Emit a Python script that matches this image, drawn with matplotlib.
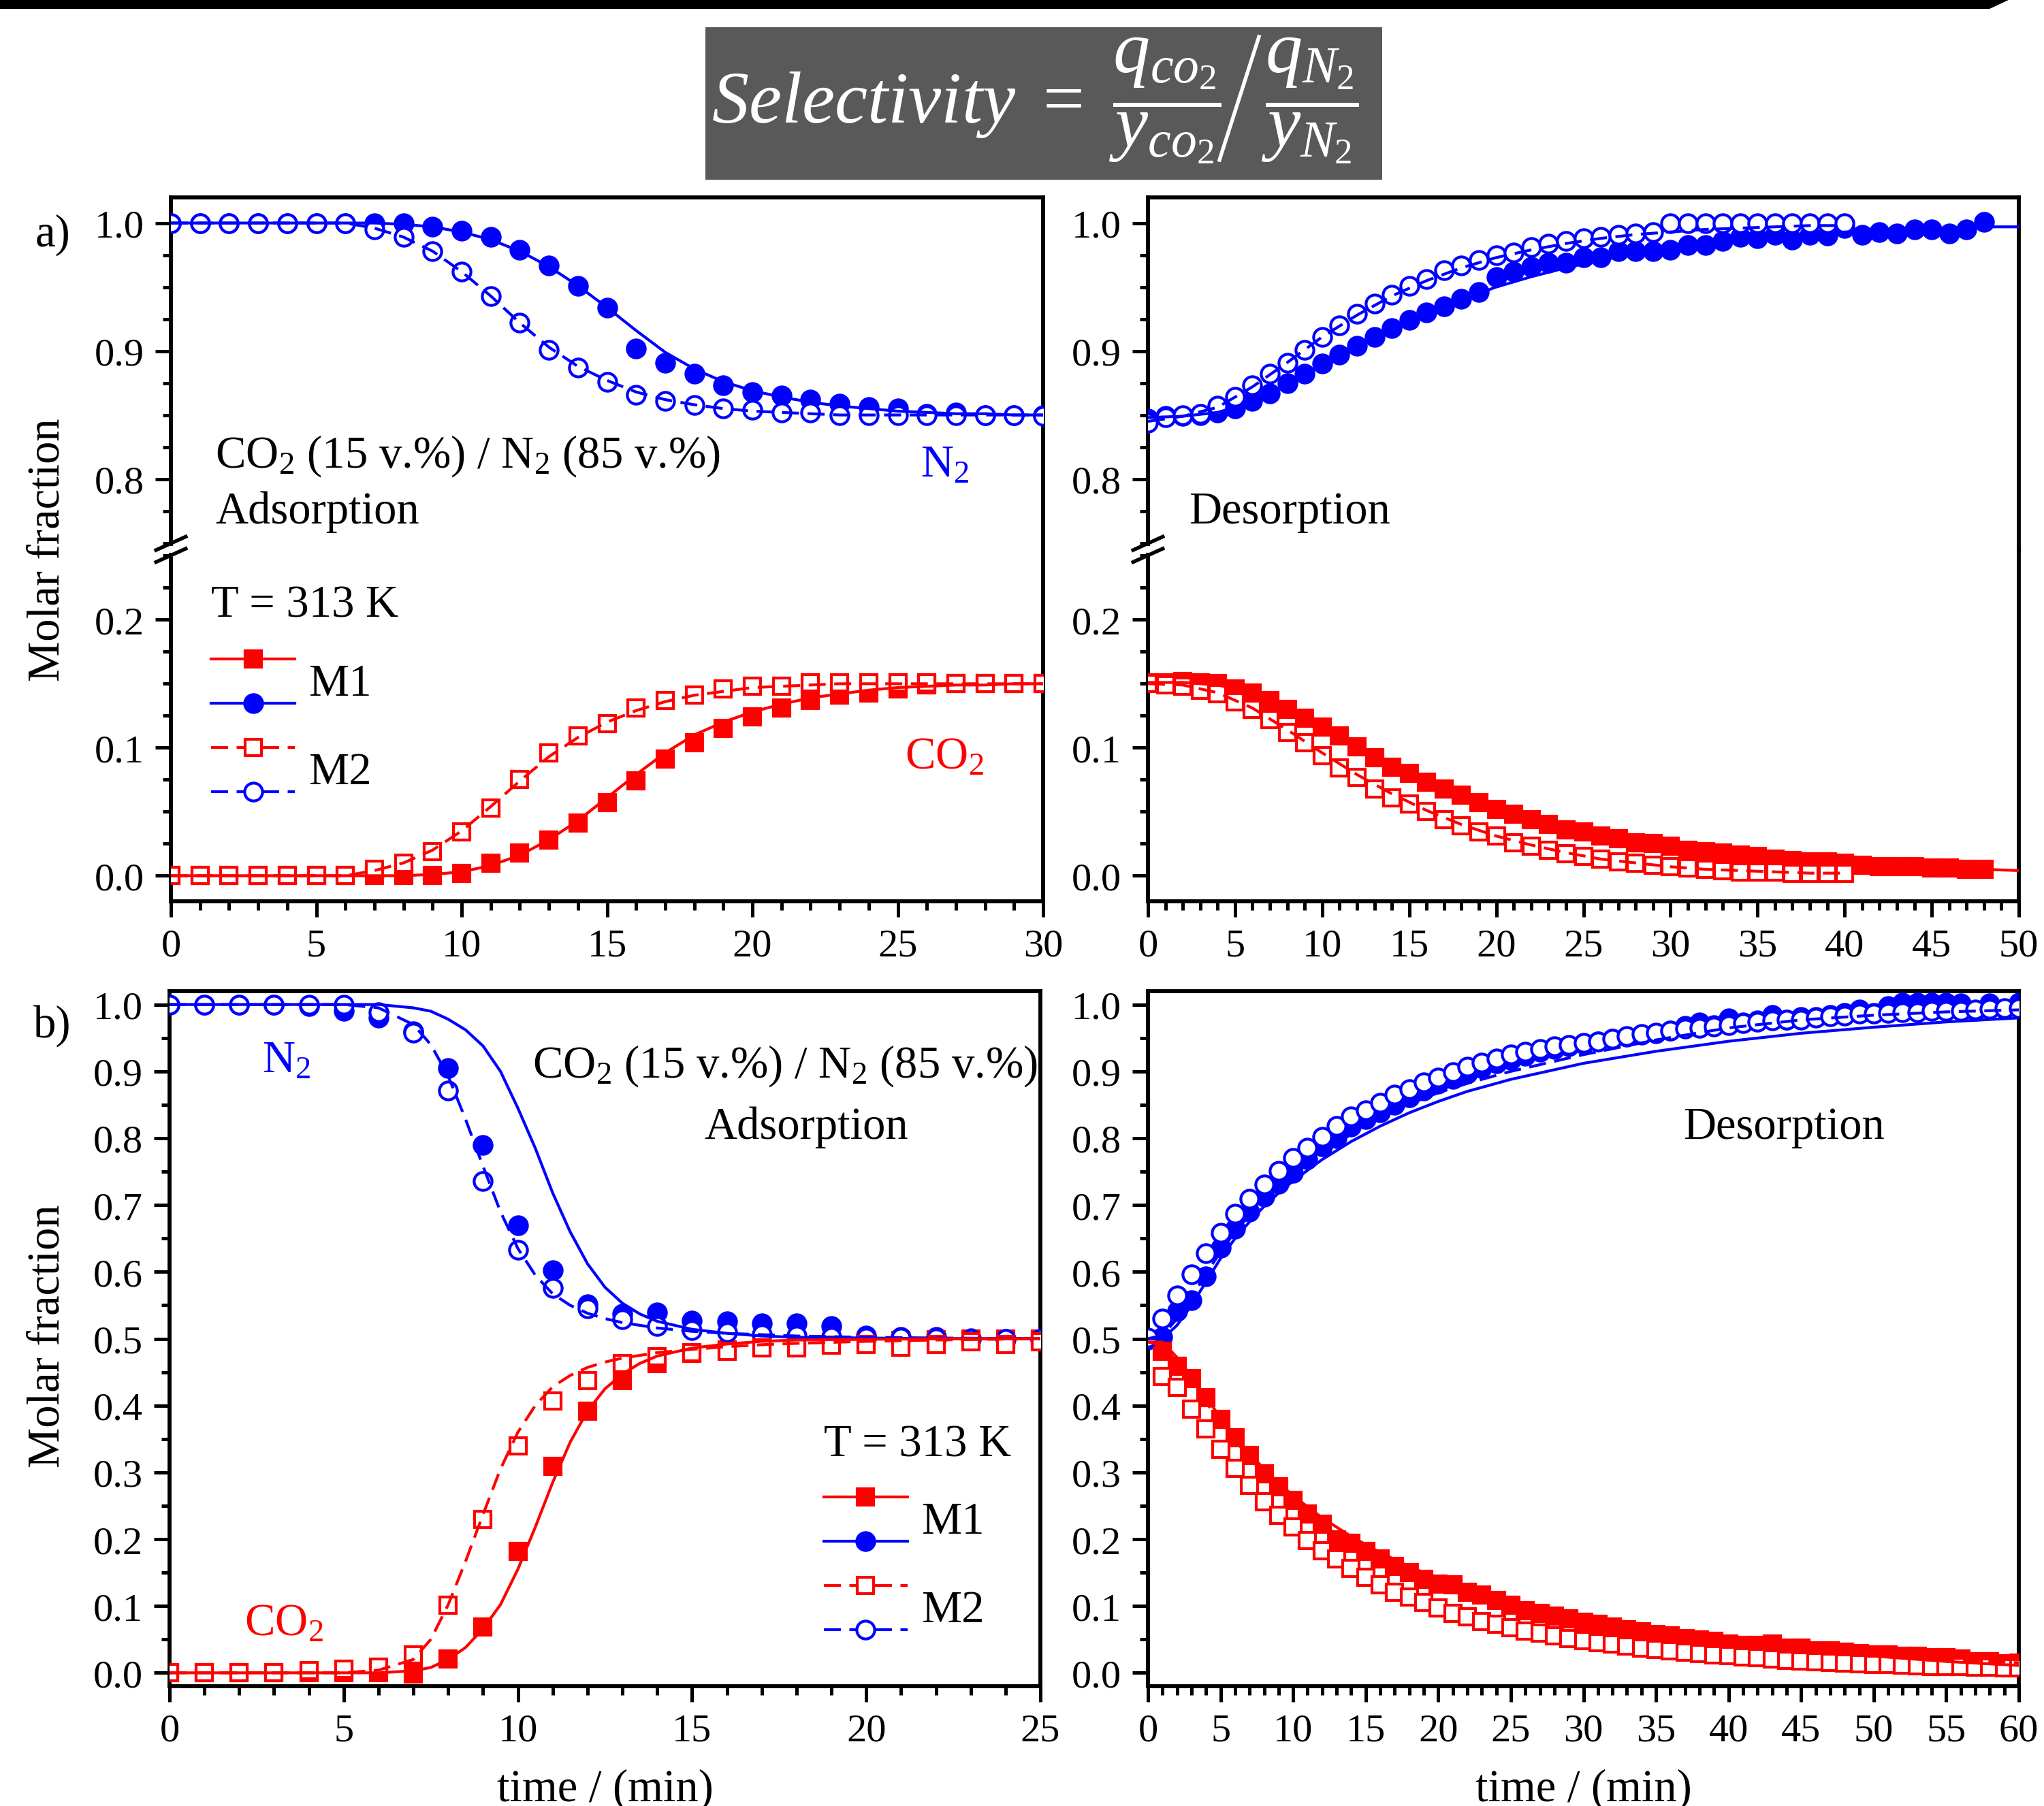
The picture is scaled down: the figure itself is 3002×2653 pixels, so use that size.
import matplotlib
matplotlib.use('Agg')
import matplotlib.pyplot as plt
from matplotlib.lines import Line2D
from matplotlib.patches import Rectangle, Polygon
from matplotlib.legend_handler import HandlerBase
from matplotlib.ticker import MultipleLocator, FormatStrFormatter

plt.rcParams['font.family'] = ['Liberation Serif', 'DejaVu Serif']
plt.rcParams['mathtext.fontset'] = 'custom'
plt.rcParams['mathtext.rm'] = 'Liberation Serif'
plt.rcParams['mathtext.it'] = 'Liberation Serif:italic'
plt.rcParams['mathtext.bf'] = 'Liberation Serif:bold'

RED = '#ff0000'
BLUE = '#0000ff'

# ---------------- a) CO2 15 % / N2 85 %, adsorption ----------------
t_ads_a = list(range(0, 31))
n2_m1_ads_a = [1.0, 1.0, 1.0, 1.0, 1.0, 1.0, 1.0, 1.0, 1.0, 0.997, 0.994, 0.989, 0.979, 0.967, 0.951,
               0.934, 0.902, 0.891, 0.882, 0.873, 0.868, 0.865, 0.862, 0.859, 0.856, 0.855, 0.851,
               0.852, 0.850, 0.850, 0.850]
n2_m2_ads_a = [1.0, 1.0, 1.0, 1.0, 1.0, 1.0, 1.0, 0.995, 0.989, 0.978, 0.962, 0.943, 0.922, 0.901, 0.887,
               0.876, 0.866, 0.861, 0.858, 0.855, 0.854, 0.852, 0.852, 0.850, 0.850, 0.850, 0.850,
               0.850, 0.850, 0.850, 0.849]
co2_m1_ads_a = [0.0, 0.0, 0.0, 0.0, 0.0, 0.0, 0.0, 0.0, 0.0, 0.0, 0.002, 0.010, 0.018, 0.028, 0.041,
                0.057, 0.074, 0.091, 0.104, 0.115, 0.124, 0.131, 0.137, 0.141, 0.143, 0.146, 0.149,
                0.150, 0.150, 0.150, 0.150]
co2_m2_ads_a = [0.0, 0.0, 0.0, 0.0, 0.0, 0.0, 0.0, 0.005, 0.010, 0.019, 0.034, 0.053, 0.075, 0.096, 0.109,
                0.119, 0.131, 0.137, 0.141, 0.146, 0.148, 0.148, 0.151, 0.151, 0.151, 0.151, 0.151,
                0.150, 0.150, 0.150, 0.150]
# model curves
fit_n2_m1_ads_a = [1.0, 1.0, 1.0, 1.0, 1.0, 1.0, 1.0, 1.0, 0.999, 0.997, 0.993, 0.987, 0.978, 0.966, 0.951,
                   0.934, 0.916, 0.899, 0.886, 0.876, 0.869, 0.864, 0.860, 0.857, 0.855, 0.853, 0.852,
                   0.851, 0.851, 0.850, 0.850]
fit_n2_m2_ads_a = [1.0, 1.0, 1.0, 1.0, 1.0, 1.0, 1.0, 0.996, 0.989, 0.978, 0.962, 0.943, 0.922, 0.903, 0.888,
                   0.877, 0.868, 0.862, 0.858, 0.855, 0.853, 0.852, 0.851, 0.850, 0.850, 0.850, 0.850,
                   0.850, 0.850, 0.850, 0.850]
fit_co2_m1_ads_a = [0.0, 0.0, 0.0, 0.0, 0.0, 0.0, 0.0, 0.0, 0.0, 0.001, 0.003, 0.008, 0.016, 0.028, 0.043,
                    0.061, 0.079, 0.096, 0.110, 0.120, 0.128, 0.134, 0.139, 0.142, 0.145, 0.147, 0.148,
                    0.149, 0.149, 0.150, 0.150]
fit_co2_m2_ads_a = [0.0, 0.0, 0.0, 0.0, 0.0, 0.0, 0.0, 0.004, 0.010, 0.020, 0.035, 0.054, 0.074, 0.093, 0.108,
                    0.120, 0.129, 0.136, 0.141, 0.144, 0.147, 0.148, 0.149, 0.150, 0.150, 0.150, 0.150,
                    0.150, 0.150, 0.150, 0.150]

# ---------------- a) desorption ----------------
t_des_a_m1 = list(range(0, 49))
t_des_a_m2 = list(range(0, 41))
n2_m1_des_a = [0.847, 0.849, 0.849, 0.850, 0.852, 0.855, 0.861, 0.867, 0.875, 0.882,
               0.890, 0.897, 0.904, 0.911, 0.918, 0.924, 0.930, 0.935, 0.941, 0.946,
               0.958, 0.962, 0.966, 0.969, 0.969, 0.973, 0.973, 0.978, 0.978, 0.978,
               0.979, 0.983, 0.983, 0.986, 0.989, 0.988, 0.991, 0.987, 0.991, 0.990,
               0.996, 0.991, 0.993, 0.992, 0.995, 0.995, 0.992, 0.995, 1.001]
n2_m2_des_a = [0.844, 0.848, 0.850, 0.851, 0.857, 0.864, 0.873, 0.882, 0.891, 0.901,
               0.911, 0.920, 0.929, 0.937, 0.944, 0.951, 0.956, 0.963, 0.967, 0.971,
               0.975, 0.977, 0.981, 0.984, 0.986, 0.988, 0.989, 0.991, 0.992, 0.993,
               1.0, 1.0, 1.0, 1.0, 1.0, 1.0, 1.0, 1.0, 1.0, 1.0, 1.0]
co2_m1_des_a = [0.151, 0.151, 0.152, 0.151, 0.150, 0.146, 0.143, 0.137, 0.130, 0.123,
                0.116, 0.109, 0.101, 0.092, 0.085, 0.080, 0.073, 0.068, 0.063, 0.057,
                0.052, 0.048, 0.044, 0.040, 0.036, 0.034, 0.031, 0.029, 0.026, 0.025,
                0.023, 0.020, 0.019, 0.018, 0.016, 0.015, 0.013, 0.012, 0.011, 0.011,
                0.010, 0.008, 0.007, 0.007, 0.007, 0.006, 0.006, 0.005, 0.005]
co2_m2_des_a = [0.150, 0.149, 0.148, 0.145, 0.142, 0.136, 0.130, 0.122, 0.112, 0.104,
                0.094, 0.084, 0.077, 0.068, 0.061, 0.056, 0.050, 0.044, 0.039, 0.034,
                0.031, 0.026, 0.023, 0.020, 0.017, 0.015, 0.013, 0.011, 0.010, 0.008,
                0.007, 0.006, 0.005, 0.004, 0.003, 0.003, 0.003, 0.002, 0.002, 0.002, 0.002]
t_fit_des_a_m1 = [0, 2, 4, 6, 8, 10, 12, 14, 16, 18, 20, 22, 24, 26, 28, 30, 32, 34, 36, 38, 40,
                  42, 44, 46, 48, 50]
t_fit_des_a_m2 = [0, 2, 4, 6, 8, 10, 12, 14, 16, 18, 20, 22, 24, 26, 28, 30, 32, 34, 36, 38, 40]
fit_n2_m1_des_a = [0.848, 0.849, 0.852, 0.860, 0.874, 0.889, 0.903, 0.917, 0.929, 0.940, 0.950,
                   0.958, 0.965, 0.971, 0.976, 0.980, 0.984, 0.987, 0.989, 0.991, 0.993, 0.994,
                   0.995, 0.996, 0.997, 0.997]
fit_n2_m2_des_a = [0.845, 0.849, 0.856, 0.872, 0.891, 0.911, 0.928, 0.943, 0.955, 0.965, 0.973,
                   0.979, 0.984, 0.988, 0.991, 0.993, 0.995, 0.996, 0.997, 0.998, 0.998]
fit_co2_m1_des_a = [0.151, 0.151, 0.149, 0.143, 0.131, 0.117, 0.102, 0.088, 0.075, 0.064, 0.054,
                    0.045, 0.038, 0.032, 0.027, 0.022, 0.018, 0.015, 0.013, 0.011, 0.009, 0.008,
                    0.007, 0.006, 0.005, 0.004]
fit_co2_m2_des_a = [0.150, 0.149, 0.143, 0.131, 0.114, 0.096, 0.079, 0.064, 0.051, 0.040, 0.031,
                    0.024, 0.018, 0.013, 0.010, 0.007, 0.005, 0.004, 0.003, 0.002, 0.002]

# ---------------- b) adsorption ----------------
t_ads_b = list(range(0, 26))
n2_m1_ads_b = [1.0, 1.0, 1.0, 1.0, 0.998, 0.990, 0.980, 0.960, 0.905, 0.790, 0.670, 0.602, 0.551,
               0.537, 0.539, 0.527, 0.526, 0.523, 0.523, 0.519, 0.505, 0.503, 0.503, 0.501, 0.500, 0.500]
n2_m2_ads_b = [1.0, 1.0, 1.0, 1.0, 1.0, 1.0, 0.988, 0.958, 0.871, 0.736, 0.633, 0.576, 0.545,
               0.529, 0.519, 0.513, 0.510, 0.507, 0.505, 0.503, 0.502, 0.502, 0.501, 0.500, 0.500, 0.500]
co2_m1_ads_b = [0.0, 0.0, 0.0, 0.0, 0.0, 0.0, 0.0, -0.002, 0.021, 0.069, 0.182, 0.309, 0.392,
                0.437, 0.463, 0.478, 0.483, 0.487, 0.490, 0.494, 0.495, 0.497, 0.498, 0.500, 0.500, 0.500]
co2_m2_ads_b = [0.0, 0.0, 0.0, 0.0, 0.003, 0.005, 0.009, 0.027, 0.101, 0.230, 0.340, 0.407, 0.437,
                0.463, 0.473, 0.479, 0.481, 0.486, 0.486, 0.490, 0.491, 0.487, 0.491, 0.495, 0.491, 0.495]
t_fit_ads_b = [0, 5, 6, 7, 7.5, 8, 8.5, 9, 9.5, 10, 10.5, 11, 11.5, 12, 12.5, 13, 13.5, 14, 15, 16,
               17, 18, 20, 22, 25]
fit_n2_m1_ads_b = [1.0, 1.0, 1.0, 0.995, 0.990, 0.978, 0.962, 0.938, 0.900, 0.845, 0.785, 0.718,
                   0.660, 0.612, 0.577, 0.553, 0.537, 0.526, 0.514, 0.508, 0.504, 0.502, 0.501,
                   0.500, 0.500]
fit_n2_m2_ads_b = [1.0, 1.0, 0.995, 0.970, 0.940, 0.893, 0.828, 0.758, 0.690, 0.635, 0.595, 0.567,
                   0.550, 0.538, 0.530, 0.524, 0.520, 0.516, 0.511, 0.508, 0.506, 0.504, 0.502,
                   0.501, 0.500]
fit_co2_m1_ads_b = [0.0, 0.0, 0.0, 0.003, 0.008, 0.020, 0.038, 0.066, 0.102, 0.155, 0.218, 0.285,
                    0.345, 0.392, 0.425, 0.447, 0.463, 0.474, 0.486, 0.492, 0.496, 0.498, 0.499,
                    0.500, 0.500]
fit_co2_m2_ads_b = [0.0, 0.0, 0.004, 0.020, 0.050, 0.102, 0.167, 0.237, 0.305, 0.360, 0.400, 0.428,
                    0.445, 0.457, 0.465, 0.471, 0.475, 0.479, 0.484, 0.488, 0.491, 0.493, 0.496,
                    0.498, 0.500]

# ---------------- b) desorption ----------------
t_des_b_n2 = list(range(0, 61))
t_des_b_co2 = list(range(1, 61))
n2_m1_des_b = [0.498, 0.503, 0.541, 0.558, 0.593, 0.636, 0.664, 0.690, 0.712, 0.732,
               0.748, 0.768, 0.788, 0.800, 0.817, 0.829, 0.839, 0.850, 0.861, 0.871,
               0.881, 0.889, 0.897, 0.905, 0.912, 0.917, 0.923, 0.929, 0.933, 0.937,
               0.941, 0.945, 0.949, 0.952, 0.955, 0.957, 0.961, 0.968, 0.973, 0.969,
               0.979, 0.973, 0.976, 0.984, 0.977, 0.981, 0.981, 0.984, 0.987, 0.992,
               0.987, 0.998, 1.003, 1.003, 1.003, 1.003, 1.002, 0.990, 1.002, 0.994, 1.003]
n2_m2_des_b = [0.502, 0.530, 0.565, 0.596, 0.628, 0.658, 0.687, 0.709, 0.731, 0.751,
               0.770, 0.786, 0.802, 0.818, 0.833, 0.842, 0.853, 0.865, 0.873, 0.883,
               0.891, 0.899, 0.907, 0.913, 0.919, 0.925, 0.929, 0.933, 0.937, 0.940,
               0.943, 0.945, 0.949, 0.953, 0.956, 0.958, 0.961, 0.964, 0.965, 0.967,
               0.969, 0.972, 0.974, 0.976, 0.977, 0.977, 0.980, 0.982, 0.983, 0.986,
               0.986, 0.987, 0.988, 0.988, 0.990, 0.990, 0.990, 0.992, 0.994, 0.995, 0.995]
co2_m1_des_b = [0.481, 0.459, 0.440, 0.412, 0.379, 0.352, 0.325, 0.298, 0.278, 0.258,
                0.238, 0.222, 0.199, 0.194, 0.182, 0.170, 0.159, 0.150, 0.140, 0.133,
                0.132, 0.121, 0.116, 0.108, 0.101, 0.093, 0.089, 0.085, 0.081, 0.076,
                0.073, 0.069, 0.065, 0.061, 0.057, 0.055, 0.051, 0.049, 0.047, 0.043,
                0.041, 0.041, 0.043, 0.037, 0.037, 0.033, 0.033, 0.031, 0.029, 0.027,
                0.027, 0.025, 0.025, 0.023, 0.023, 0.021, 0.017, 0.017, 0.014, 0.015]
co2_m2_des_b = [0.443, 0.427, 0.395, 0.365, 0.334, 0.306, 0.280, 0.256, 0.236, 0.218,
                0.198, 0.183, 0.170, 0.156, 0.143, 0.132, 0.121, 0.113, 0.105, 0.097,
                0.089, 0.084, 0.077, 0.073, 0.068, 0.063, 0.059, 0.055, 0.051, 0.048,
                0.045, 0.043, 0.040, 0.037, 0.035, 0.033, 0.031, 0.029, 0.027, 0.026,
                0.024, 0.023, 0.021, 0.019, 0.018, 0.017, 0.016, 0.015, 0.014, 0.013,
                0.013, 0.012, 0.011, 0.010, 0.010, 0.010, 0.009, 0.009, 0.008, 0.008]
t_fit_des_b = [0, 1, 2, 3, 4, 5, 6, 7, 8, 9, 10, 12, 14, 16, 18, 20, 22, 25, 30, 35, 40, 45, 50, 55, 60]
fit_n2_m1_des_b = [0.500, 0.500, 0.520, 0.550, 0.585, 0.620, 0.650, 0.675, 0.698, 0.718, 0.736,
                   0.768, 0.795, 0.818, 0.838, 0.855, 0.870, 0.888, 0.912, 0.930, 0.945, 0.957,
                   0.966, 0.974, 0.980]
fit_n2_m2_des_b = [0.500, 0.505, 0.530, 0.562, 0.597, 0.630, 0.660, 0.685, 0.707, 0.727, 0.745,
                   0.778, 0.806, 0.830, 0.851, 0.868, 0.882, 0.900, 0.925, 0.947, 0.965, 0.977,
                   0.984, 0.989, 0.992]
fit_co2_m1_des_b = [0.495, 0.495, 0.472, 0.443, 0.412, 0.382, 0.354, 0.328, 0.305, 0.284, 0.265,
                    0.232, 0.204, 0.180, 0.159, 0.141, 0.126, 0.106, 0.082, 0.063, 0.047, 0.035,
                    0.025, 0.017, 0.011]
fit_co2_m2_des_b = [0.495, 0.490, 0.465, 0.435, 0.405, 0.375, 0.348, 0.322, 0.298, 0.277, 0.257,
                    0.222, 0.193, 0.168, 0.148, 0.130, 0.115, 0.097, 0.075, 0.058, 0.045, 0.035,
                    0.027, 0.020, 0.015]

legend_title = 'T = 313 K'
legend_labels = ['M1', 'M2']

# ---------------------------------------------------------------------
W, H = 3002, 2654
FS = 16
TICK_FS = 14
MS_CIRC = 6.3
MS_SQ = 5.6
LW = 1.0
DASH = (6, 3)


def fbox(l, t, r, b):
    return [l / W, 1 - b / H, (r - l) / W, (b - t) / H]


def marker_kw(shape, color, filled):
    return dict(ls='none', marker=shape, ms=MS_CIRC if shape == 'o' else MS_SQ,
                mfc=color if filled else 'white', mec=color, mew=1.0)


def draw_points(ax, t, y, shape, color, filled):
    ax.plot(t, y, zorder=3 if filled else 4, **marker_kw(shape, color, filled))


def draw_fit(ax, t, y, color, dashed):
    if dashed:
        ax.plot(t, y, color=color, lw=LW, dashes=DASH, zorder=5)
    else:
        ax.plot(t, y, color=color, lw=LW, zorder=5)


def style_axis(ax, xmax):
    ax.set_xlim(0, xmax)
    ax.xaxis.set_major_locator(MultipleLocator(5))
    ax.xaxis.set_minor_locator(MultipleLocator(1))
    ax.yaxis.set_major_formatter(FormatStrFormatter('%.1f'))
    ax.tick_params(which='both', direction='out', width=1.2, labelsize=TICK_FS,
                   top=False, right=False, pad=4)
    ax.tick_params(which='major', length=5.5)
    ax.tick_params(which='minor', length=3)
    for s in ax.spines.values():
        s.set_linewidth(1.4)


def broken_pair(l, r, xmax):
    at = fig.add_axes(fbox(l, 291, r, 808))
    ab = fig.add_axes(fbox(l, 808, r, 1325), sharex=at)
    for ax in (at, ab):
        style_axis(ax, xmax)
        ax.yaxis.set_major_locator(MultipleLocator(0.1))
        ax.yaxis.set_minor_locator(MultipleLocator(0.025))
    at.set_ylim(0.745, 1.02)
    ab.set_ylim(-0.02, 0.255)
    at.spines['bottom'].set_visible(False)
    ab.spines['top'].set_visible(False)
    at.tick_params(axis='x', which='both', bottom=False, labelbottom=False)
    gap = 0.0045
    at.spines['left'].set_bounds(0.745 + gap, 1.02)
    ab.spines['left'].set_bounds(-0.02, 0.255 - gap)
    # break marks
    dx, dy = 0.017, 0.019
    for off in (0.017, -0.017):
        ab.plot([-dx, dx], [1 + off - dy, 1 + off + dy], transform=ab.transAxes,
                color='black', lw=1.3, clip_on=False, zorder=10)
    return at, ab


class HandlerStack(HandlerBase):
    def create_artists(self, legend, orig_handle, xdescent, ydescent, width, height,
                       fontsize, trans):
        arts = []
        n = len(orig_handle)
        for i, h in enumerate(orig_handle):
            y = height * (1 - (i + 0.5) / n) - ydescent
            ln = Line2D([-xdescent, width - xdescent], [y, y], color=h.get_color(),
                        lw=h.get_linewidth(), linestyle=h.get_linestyle())
            if h.get_linestyle() == '--':
                ln.set_dashes(DASH)
            mk = Line2D([width / 2 - xdescent], [y], ls='none', marker=h.get_marker(),
                        ms=h.get_markersize(), mfc=h.get_markerfacecolor(),
                        mec=h.get_markeredgecolor(), mew=h.get_markeredgewidth())
            for a in (ln, mk):
                a.set_transform(trans)
                arts.append(a)
        return arts


def add_legend(ax, x, y_title, y_top):
    r1 = Line2D([], [], color=RED, lw=LW, ls='-', marker='s', ms=MS_SQ, mfc=RED, mec=RED)
    b1 = Line2D([], [], color=BLUE, lw=LW, ls='-', marker='o', ms=MS_CIRC, mfc=BLUE, mec=BLUE)
    r2 = Line2D([], [], color=RED, lw=LW, ls='--', marker='s', ms=MS_SQ, mfc='white', mec=RED)
    b2 = Line2D([], [], color=BLUE, lw=LW, ls='--', marker='o', ms=MS_CIRC, mfc='white', mec=BLUE)
    leg = ax.legend([(r1, b1), (r2, b2)], legend_labels, handler_map={tuple: HandlerStack()},
                    fontsize=FS, frameon=False, loc='upper left', bbox_to_anchor=(x, y_top),
                    borderpad=0, borderaxespad=0, handlelength=1.85, handleheight=2.62,
                    labelspacing=0, handletextpad=0.3)
    leg.set_zorder(20)
    ax.text(x, y_title, legend_title, transform=ax.transAxes, fontsize=FS, ha='left',
            va='center')
    return leg


fig = plt.figure(figsize=(W / 300, H / 300), dpi=300)

# header decoration
fig.patches.append(Polygon([(0, 1), (2952 / W, 1), (2922 / W, 1 - 14 / H), (0, 1 - 14 / H)],
                           closed=True, transform=fig.transFigure, facecolor='black',
                           edgecolor='none'))
fig.patches.append(Rectangle((1036 / W, 1 - 265 / H), (2030 - 1036) / W, (265 - 41) / H,
                             transform=fig.transFigure, facecolor='#595959', edgecolor='none'))
fig.text(1793 / W, 1 - 148 / H, r'$Selectivity\ =\ \dfrac{q_{co_2}}{y_{co_2}}$', color='white',
         fontsize=26, ha='right', va='center')
fig.text(1852 / W, 1 - 148 / H, r'$\dfrac{q_{N_2}}{y_{N_2}}$', color='white',
         fontsize=26, ha='left', va='center')
fig.lines.append(Line2D([1849 / W, 1791 / W], [1 - 55 / H, 1 - 236 / H], transform=fig.transFigure,
                        color='white', lw=1.3))

# ---- panel a, adsorption
at, ab = broken_pair(251, 1532, 30)
draw_points(at, t_ads_a, n2_m1_ads_a, 'o', BLUE, True)
draw_points(at, t_ads_a, n2_m2_ads_a, 'o', BLUE, False)
draw_fit(at, t_ads_a, fit_n2_m1_ads_a, BLUE, False)
draw_fit(at, t_ads_a, fit_n2_m2_ads_a, BLUE, True)
draw_points(ab, t_ads_a, co2_m1_ads_a, 's', RED, True)
draw_points(ab, t_ads_a, co2_m2_ads_a, 's', RED, False)
draw_fit(ab, t_ads_a, fit_co2_m1_ads_a, RED, False)
draw_fit(ab, t_ads_a, fit_co2_m2_ads_a, RED, True)
at.text(0.051, 0.267, r'CO$_2$ (15 v.%) / N$_2$ (85 v.%)', transform=at.transAxes,
        fontsize=FS, ha='left', va='center')
at.text(0.051, 0.108, 'Adsorption', transform=at.transAxes, fontsize=FS, ha='left', va='center')
at.text(0.887, 0.24, r'N$_2$', transform=at.transAxes, fontsize=FS, ha='center', va='center',
        color=BLUE)
ab.text(0.887, 0.41, r'CO$_2$', transform=ab.transAxes, fontsize=FS, ha='center', va='center',
        color=RED)
add_legend(ab, 0.046, 0.841, 0.751)
fig.text(70 / W, 1 - 808 / H, 'Molar fraction', rotation=90, fontsize=FS, ha='center', va='center')
fig.text(77 / W, 1 - 345 / H, 'a)', fontsize=FS, ha='center', va='center')

# ---- panel a, desorption
at2, ab2 = broken_pair(1686, 2965, 50)
draw_points(at2, t_des_a_m1, n2_m1_des_a, 'o', BLUE, True)
draw_points(at2, t_des_a_m2, n2_m2_des_a, 'o', BLUE, False)
draw_fit(at2, t_fit_des_a_m1, fit_n2_m1_des_a, BLUE, False)
draw_fit(at2, t_fit_des_a_m2, fit_n2_m2_des_a, BLUE, True)
draw_points(ab2, t_des_a_m1, co2_m1_des_a, 's', RED, True)
draw_points(ab2, t_des_a_m2, co2_m2_des_a, 's', RED, False)
draw_fit(ab2, t_fit_des_a_m1, fit_co2_m1_des_a, RED, False)
draw_fit(ab2, t_fit_des_a_m2, fit_co2_m2_des_a, RED, True)
at2.text(0.047, 0.108, 'Desorption', transform=at2.transAxes, fontsize=FS, ha='left', va='center')

# ---- panel b, adsorption
bl = fig.add_axes(fbox(249, 1457, 1528, 2478))
style_axis(bl, 25)
bl.set_ylim(-0.02, 1.02)
bl.yaxis.set_major_locator(MultipleLocator(0.1))
bl.yaxis.set_minor_locator(MultipleLocator(0.05))
draw_points(bl, t_ads_b, n2_m1_ads_b, 'o', BLUE, True)
draw_points(bl, t_ads_b, co2_m1_ads_b, 's', RED, True)
draw_points(bl, t_ads_b, n2_m2_ads_b, 'o', BLUE, False)
draw_points(bl, t_ads_b, co2_m2_ads_b, 's', RED, False)
draw_fit(bl, t_fit_ads_b, fit_n2_m1_ads_b, BLUE, False)
draw_fit(bl, t_fit_ads_b, fit_n2_m2_ads_b, BLUE, True)
draw_fit(bl, t_fit_ads_b, fit_co2_m1_ads_b, RED, False)
draw_fit(bl, t_fit_ads_b, fit_co2_m2_ads_b, RED, True)
bl.text(0.134, 0.9, r'N$_2$', transform=bl.transAxes, fontsize=FS, ha='center', va='center',
        color=BLUE)
bl.text(0.131, 0.09, r'CO$_2$', transform=bl.transAxes, fontsize=FS, ha='center', va='center',
        color=RED)
bl.text(0.707, 0.893, r'CO$_2$ (15 v.%) / N$_2$ (85 v.%)', transform=bl.transAxes,
        fontsize=FS, ha='center', va='center')
bl.text(0.731, 0.805, 'Adsorption', transform=bl.transAxes, fontsize=FS, ha='center', va='center')
add_legend(bl, 0.751, 0.3477, 0.304)
bl.set_xlabel('time / (min)', fontsize=FS)
bl.xaxis.set_label_coords(0.5, -0.1175)
bl.xaxis.label.set_va('top')
fig.text(70 / W, 1 - 1963 / H, 'Molar fraction', rotation=90, fontsize=FS, ha='center', va='center')
fig.text(77 / W, 1 - 1507 / H, 'b)', fontsize=FS, ha='center', va='center')

# ---- panel b, desorption
br = fig.add_axes(fbox(1686, 1457, 2965, 2478))
style_axis(br, 60)
br.set_ylim(-0.02, 1.02)
br.yaxis.set_major_locator(MultipleLocator(0.1))
br.yaxis.set_minor_locator(MultipleLocator(0.05))
draw_points(br, t_des_b_n2, n2_m1_des_b, 'o', BLUE, True)
draw_points(br, t_des_b_co2, co2_m1_des_b, 's', RED, True)
draw_points(br, t_des_b_n2, n2_m2_des_b, 'o', BLUE, False)
draw_points(br, t_des_b_co2, co2_m2_des_b, 's', RED, False)
draw_fit(br, t_fit_des_b, fit_n2_m1_des_b, BLUE, False)
draw_fit(br, t_fit_des_b, fit_n2_m2_des_b, BLUE, True)
draw_fit(br, t_fit_des_b, fit_co2_m1_des_b, RED, False)
draw_fit(br, t_fit_des_b, fit_co2_m2_des_b, RED, True)
br.text(0.73, 0.805, 'Desorption', transform=br.transAxes, fontsize=FS, ha='center', va='center')
br.set_xlabel('time / (min)', fontsize=FS)
br.xaxis.set_label_coords(0.5, -0.1175)
br.xaxis.label.set_va('top')

fig.savefig('out.png', dpi=300)
